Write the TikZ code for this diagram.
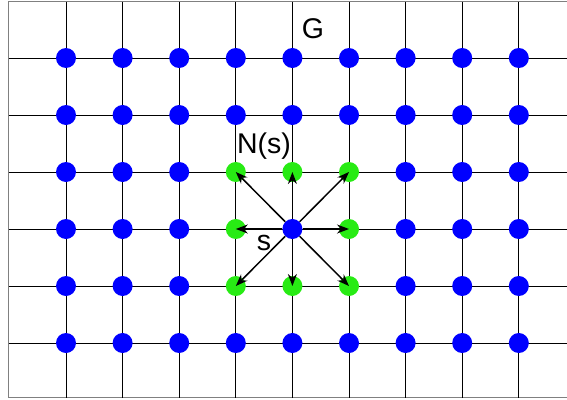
\documentclass[tikz,border=0pt]{standalone}
\usepackage{fontspec}
\setmainfont{Liberation Sans}
\usetikzlibrary{arrows.meta}
\definecolor{dotblue}{RGB}{0,0,255}
\definecolor{dotgreen}{RGB}{40,235,20}

\begin{document}
\begin{tikzpicture}[x=1pt, y=-1pt,
    gridline/.style={black, line width=0.9pt},
    vertex/.style={circle, fill=dotblue, inner sep=0pt, minimum size=20pt},
    nbr/.style={vertex, fill=dotgreen},
    edge/.style={-{Stealth[length=12pt, width=9pt]}, line width=1.5pt},
    lbl/.style={anchor=base, font=\fontsize{28.5}{32}\selectfont}]
    \useasboundingbox (0,0) rectangle (567,399);

    % frame
    \draw[gray, line width=1pt] (567,1.5) -- (8.5,1.5) -- (8.5,397.5) -- (567,397.5);

    % grid G
    \foreach \i in {0,...,8}
        \draw[gridline] (66+56.6*\i,1.5) -- (66+56.6*\i,397.5);
    \foreach \j in {0,...,5}
        \draw[gridline] (8.5,58+57*\j) -- (567,58+57*\j);

    % vertices, neighbours of s in green
    \foreach \i in {0,...,8}
        \foreach \j in {0,...,5} {
            \pgfmathtruncatemacro\near{(abs(\i-4)<2)*(abs(\j-3)<2)*(((\i!=4)+(\j!=3))>0)}
            \ifnum\near=1
                \node[nbr] (v-\i-\j) at (66+56.6*\i,58+57*\j) {};
            \else
                \node[vertex] (v-\i-\j) at (66+56.6*\i,58+57*\j) {};
            \fi
        }

    % arrows s -> N(s)
    \foreach \i/\j in {3/2,4/2,5/2,3/3,5/3,3/4,4/4,5/4}
        \draw[edge] (v-4-3) -- (v-\i-\j.center);

    % labels
    \node[lbl] (glabel) at (313,38) {G};
    \node[lbl] (nlabel) at (264,153) {N(s)};
    \node[lbl] (slabel) at (264,250) {s};
\end{tikzpicture}
\end{document}
